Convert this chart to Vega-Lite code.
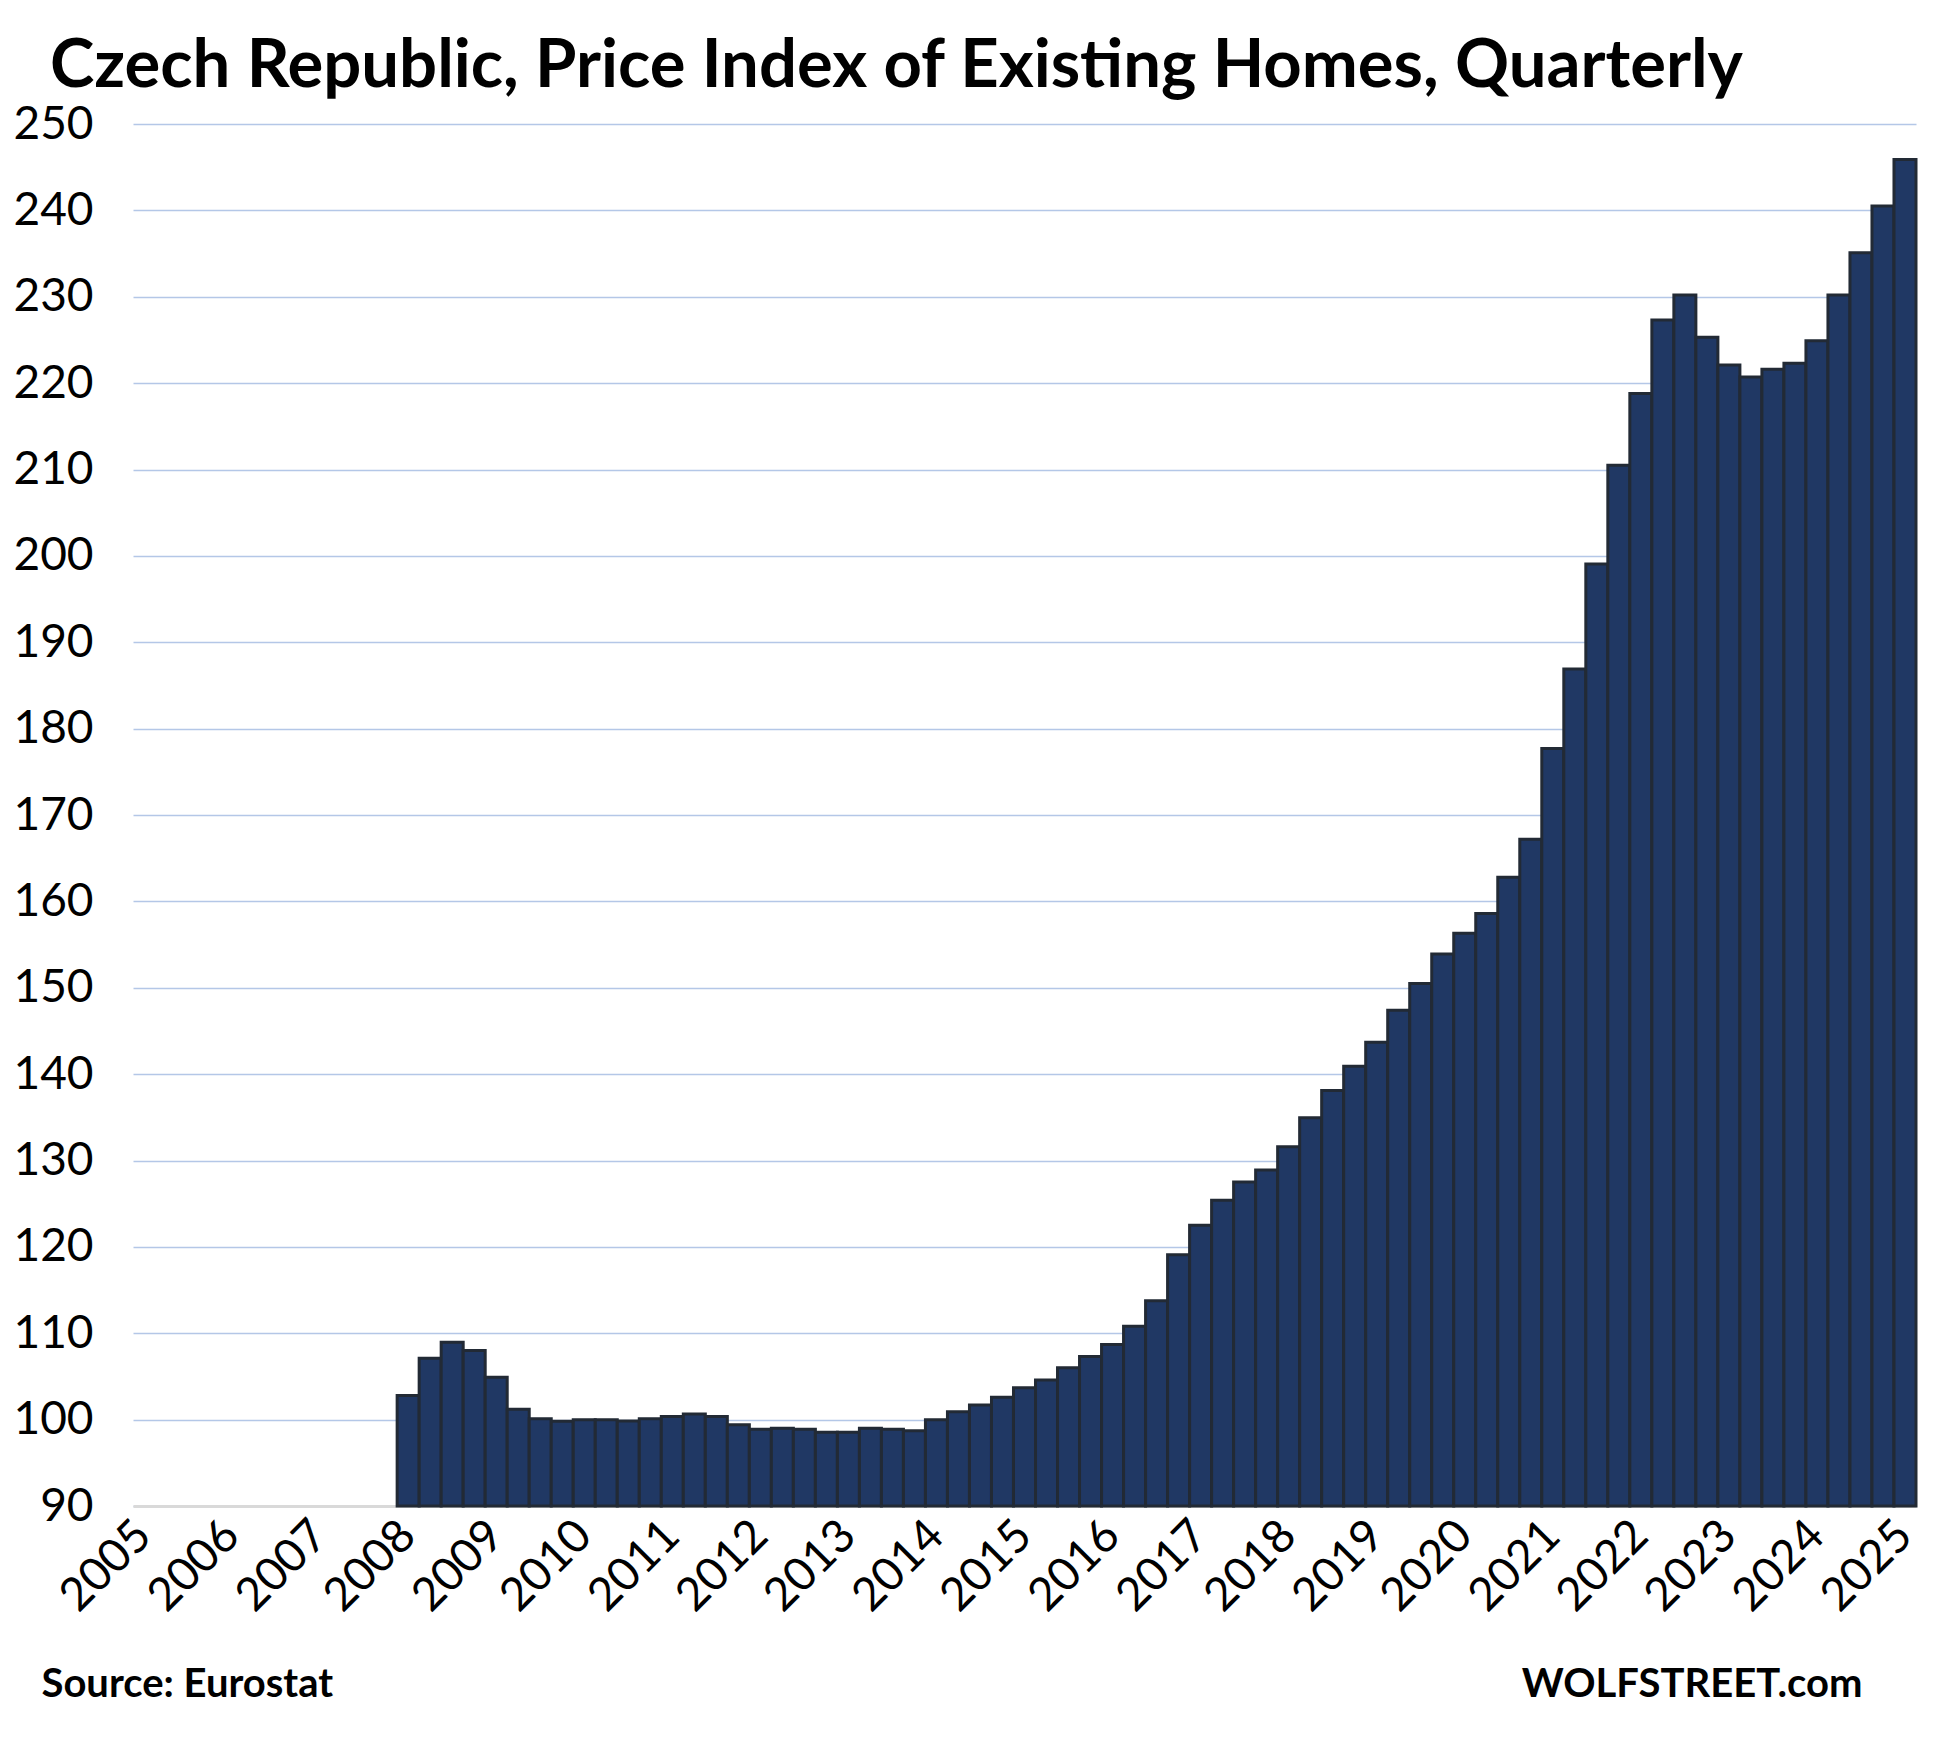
{
  "$schema": "https://vega.github.io/schema/vega-lite/v6.json",
  "width": 1783,
  "height": 1382,
  "autosize": {"type": "none"},
  "padding": {"left": 133, "top": 124, "right": 20, "bottom": 238},
  "background": "white",
  "config": {
    "view": {"stroke": null},
    "font": "Lato"
  },
  "title": {
    "text": "Czech Republic, Price Index of Existing Homes, Quarterly",
    "font": "Lato",
    "fontSize": 67,
    "fontWeight": "bold",
    "color": "black",
    "anchor": "start",
    "frame": "group",
    "dx": -83,
    "baseline": "alphabetic",
    "offset": -53
  },
  "data": {
    "values": [
      {"q": "2008Q1", "v": 102.8}, {"q": "2008Q2", "v": 107.1}, {"q": "2008Q3", "v": 108.95}, {"q": "2008Q4", "v": 108.0},
      {"q": "2009Q1", "v": 104.9}, {"q": "2009Q2", "v": 101.2}, {"q": "2009Q3", "v": 100.1}, {"q": "2009Q4", "v": 99.8},
      {"q": "2010Q1", "v": 100.0}, {"q": "2010Q2", "v": 100.0}, {"q": "2010Q3", "v": 99.85}, {"q": "2010Q4", "v": 100.1},
      {"q": "2011Q1", "v": 100.35}, {"q": "2011Q2", "v": 100.65}, {"q": "2011Q3", "v": 100.35}, {"q": "2011Q4", "v": 99.4},
      {"q": "2012Q1", "v": 98.9}, {"q": "2012Q2", "v": 99.0}, {"q": "2012Q3", "v": 98.9}, {"q": "2012Q4", "v": 98.55},
      {"q": "2013Q1", "v": 98.55}, {"q": "2013Q2", "v": 99.0}, {"q": "2013Q3", "v": 98.9}, {"q": "2013Q4", "v": 98.7},
      {"q": "2014Q1", "v": 100.0}, {"q": "2014Q2", "v": 100.9}, {"q": "2014Q3", "v": 101.7}, {"q": "2014Q4", "v": 102.6},
      {"q": "2015Q1", "v": 103.7}, {"q": "2015Q2", "v": 104.6}, {"q": "2015Q3", "v": 106.0}, {"q": "2015Q4", "v": 107.3},
      {"q": "2016Q1", "v": 108.7}, {"q": "2016Q2", "v": 110.8}, {"q": "2016Q3", "v": 113.75}, {"q": "2016Q4", "v": 119.1},
      {"q": "2017Q1", "v": 122.5}, {"q": "2017Q2", "v": 125.4}, {"q": "2017Q3", "v": 127.5}, {"q": "2017Q4", "v": 128.9},
      {"q": "2018Q1", "v": 131.6}, {"q": "2018Q2", "v": 134.95}, {"q": "2018Q3", "v": 138.1}, {"q": "2018Q4", "v": 140.9},
      {"q": "2019Q1", "v": 143.7}, {"q": "2019Q2", "v": 147.4}, {"q": "2019Q3", "v": 150.5}, {"q": "2019Q4", "v": 153.9},
      {"q": "2020Q1", "v": 156.3}, {"q": "2020Q2", "v": 158.6}, {"q": "2020Q3", "v": 162.8}, {"q": "2020Q4", "v": 167.2},
      {"q": "2021Q1", "v": 177.7}, {"q": "2021Q2", "v": 186.9}, {"q": "2021Q3", "v": 199.05}, {"q": "2021Q4", "v": 210.5},
      {"q": "2022Q1", "v": 218.8}, {"q": "2022Q2", "v": 227.3}, {"q": "2022Q3", "v": 230.2}, {"q": "2022Q4", "v": 225.3},
      {"q": "2023Q1", "v": 222.1}, {"q": "2023Q2", "v": 220.7}, {"q": "2023Q3", "v": 221.6}, {"q": "2023Q4", "v": 222.3},
      {"q": "2024Q1", "v": 224.9}, {"q": "2024Q2", "v": 230.2}, {"q": "2024Q3", "v": 235.1}, {"q": "2024Q4", "v": 240.5},
      {"q": "2025Q1", "v": 245.9}
    ]
  },
  "layer": [
    {
      "mark": {"type": "bar", "color": "#203864", "stroke": "#222a35", "strokeWidth": 3},
      "encoding": {
        "x": {
          "field": "q",
          "type": "nominal",
          "sort": null,
          "scale": {
            "domain": [
              "2005Q1","2005Q2","2005Q3","2005Q4","2006Q1","2006Q2","2006Q3","2006Q4",
              "2007Q1","2007Q2","2007Q3","2007Q4","2008Q1","2008Q2","2008Q3","2008Q4",
              "2009Q1","2009Q2","2009Q3","2009Q4","2010Q1","2010Q2","2010Q3","2010Q4",
              "2011Q1","2011Q2","2011Q3","2011Q4","2012Q1","2012Q2","2012Q3","2012Q4",
              "2013Q1","2013Q2","2013Q3","2013Q4","2014Q1","2014Q2","2014Q3","2014Q4",
              "2015Q1","2015Q2","2015Q3","2015Q4","2016Q1","2016Q2","2016Q3","2016Q4",
              "2017Q1","2017Q2","2017Q3","2017Q4","2018Q1","2018Q2","2018Q3","2018Q4",
              "2019Q1","2019Q2","2019Q3","2019Q4","2020Q1","2020Q2","2020Q3","2020Q4",
              "2021Q1","2021Q2","2021Q3","2021Q4","2022Q1","2022Q2","2022Q3","2022Q4",
              "2023Q1","2023Q2","2023Q3","2023Q4","2024Q1","2024Q2","2024Q3","2024Q4",
              "2025Q1"
            ],
            "paddingInner": 0,
            "paddingOuter": 0
          },
          "axis": {
            "values": ["2005Q1","2006Q1","2007Q1","2008Q1","2009Q1","2010Q1","2011Q1","2012Q1","2013Q1","2014Q1","2015Q1","2016Q1","2017Q1","2018Q1","2019Q1","2020Q1","2021Q1","2022Q1","2023Q1","2024Q1","2025Q1"],
            "labelExpr": "substring(datum.value, 0, 4)",
            "labelAngle": -45,
            "labelAlign": "right",
            "labelBaseline": "middle",
            "labelFont": "Lato",
            "labelFontSize": 46,
            "labelColor": "black",
            "labelPadding": 22,
            "labelOverlap": false,
            "ticks": false,
            "domainColor": "#d9d9d9",
            "domainWidth": 3,
            "grid": false,
            "title": "Source: Eurostat",
            "titleFont": "Lato",
            "titleFontSize": 40,
            "titleFontWeight": "bold",
            "titleColor": "black",
            "titleAlign": "left",
            "titleAnchor": "start",
            "titleBaseline": "alphabetic",
            "titleX": -92,
            "titleY": 190
          }
        },
        "y": {
          "field": "v",
          "type": "quantitative",
          "scale": {"domain": [90, 250], "zero": false, "nice": false},
          "axis": {
            "values": [90,100,110,120,130,140,150,160,170,180,190,200,210,220,230,240,250],
            "labelFont": "Lato",
            "labelFontSize": 46,
            "labelColor": "black",
            "labelPadding": 40,
            "ticks": false,
            "domain": false,
            "gridColor": "#b4c7e7",
            "gridWidth": 1.5,
            "title": null
          }
        },
        "y2": {"datum": 90}
      }
    },
    {
      "mark": {"type": "rule", "opacity": 0},
      "encoding": {
        "x": {
          "field": "q",
          "type": "nominal",
          "axis": {
            "orient": "top",
            "labels": false,
            "ticks": false,
            "domain": false,
            "grid": false,
            "title": "WOLFSTREET.com",
            "titleFont": "Lato",
            "titleFontSize": 40,
            "titleFontWeight": "bold",
            "titleColor": "black",
            "titleAlign": "right",
            "titleAnchor": "end",
            "titleBaseline": "alphabetic",
            "titleX": 1729,
            "titleY": 1572
          }
        }
      }
    }
  ],
  "resolve": {"scale": {"x": "independent"}, "axis": {"x": "independent"}}
}
